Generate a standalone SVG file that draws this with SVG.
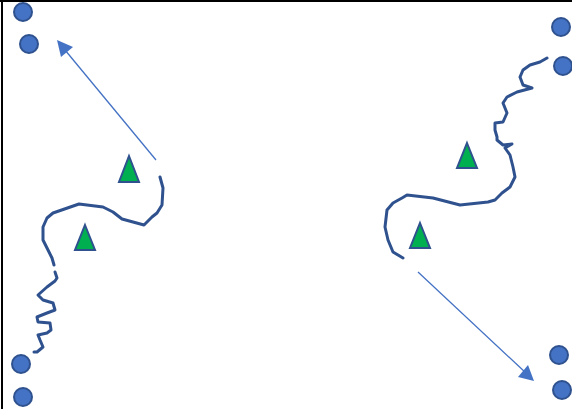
<svg xmlns="http://www.w3.org/2000/svg" width="572" height="409" viewBox="0 0 572 409">
<style>
.dot{fill:#4472C4;stroke:#2F528F;stroke-width:2}
.tri{fill:#00B050;stroke:#2F528F;stroke-width:2;stroke-linejoin:miter}
.river{fill:none;stroke:#2F528F;stroke-width:3;stroke-linecap:round;stroke-linejoin:round}
.arr{stroke:#4472C4;stroke-width:1.3;fill:none}
.head{fill:#4472C4}
</style>
<rect width="572" height="409" fill="#fff"/>
<g id="frame"><line x1="0" y1="1" x2="572" y2="1" stroke="#000" stroke-width="2"/><line x1="2" y1="0" x2="2" y2="409" stroke="#000" stroke-width="2"/></g>
<g id="dots-left">
<circle class="dot" cx="23" cy="12" r="9"/>
<circle class="dot" cx="29" cy="44" r="9"/>
<circle class="dot" cx="21" cy="364" r="9"/>
<circle class="dot" cx="23" cy="397" r="9"/>
</g>
<g id="dots-right">
<circle class="dot" cx="561" cy="27" r="9"/>
<circle class="dot" cx="563" cy="66" r="9"/>
<circle class="dot" cx="559" cy="355" r="9"/>
<circle class="dot" cx="562" cy="390" r="9"/>
</g>
<g id="tri1"><polygon class="tri" points="129,156 139,182 119,182"/></g>
<g id="tri2"><polygon class="tri" points="85,225 95,250 75,250"/></g>
<g id="tri3"><polygon class="tri" points="467,143 477,168 457,168"/></g>
<g id="tri4"><polygon class="tri" points="420,223 430,248 410,248"/></g>
<g id="river-left">
<path class="river" d="M160,177 L163,188 L162,205 L157,213 L152,217 L144,225 L122,219 L113,212 L103,207 L79,204 L53,213 L47,218 L43,227 L43,240 L47,248 L52,258 L54,265"/>
<path class="river" d="M55,272 L57,278 L55,281 L47,287 L38,295 L43,300 L53,303 L55,310 L47,313 L37,317 L38,322 L50,323 L51,330 L47,333 L38,335 L40,340 L43,347 L37,352 L34,352"/>
</g>
<g id="river-right">
<path class="river" d="M547,58 L540,62 L530,65 L523,70 L520,77 L523,85 L532,88 L517,92 L507,97 L503,103 L507,113 L503,122 L495,123 L495,130 L497,137 L497,140 L503,145 L512,144 L505,148 L510,155 L513,167 L515,177 L510,187 L502,193 L495,200 L488,202 L460,205 L433,198 L407,195 L402,198 L393,203 L387,210 L385,227 L388,240 L393,252 L403,258"/>
</g>
<g id="connectors">
<line class="arr" x1="156" y1="160" x2="65" y2="50"/>
<polygon class="head" points="57,40 61,57 73,47"/>
<line class="arr" x1="418" y1="272" x2="526" y2="373"/>
<polygon class="head" points="534,381 518,377 528,365"/>
</g>
</svg>
